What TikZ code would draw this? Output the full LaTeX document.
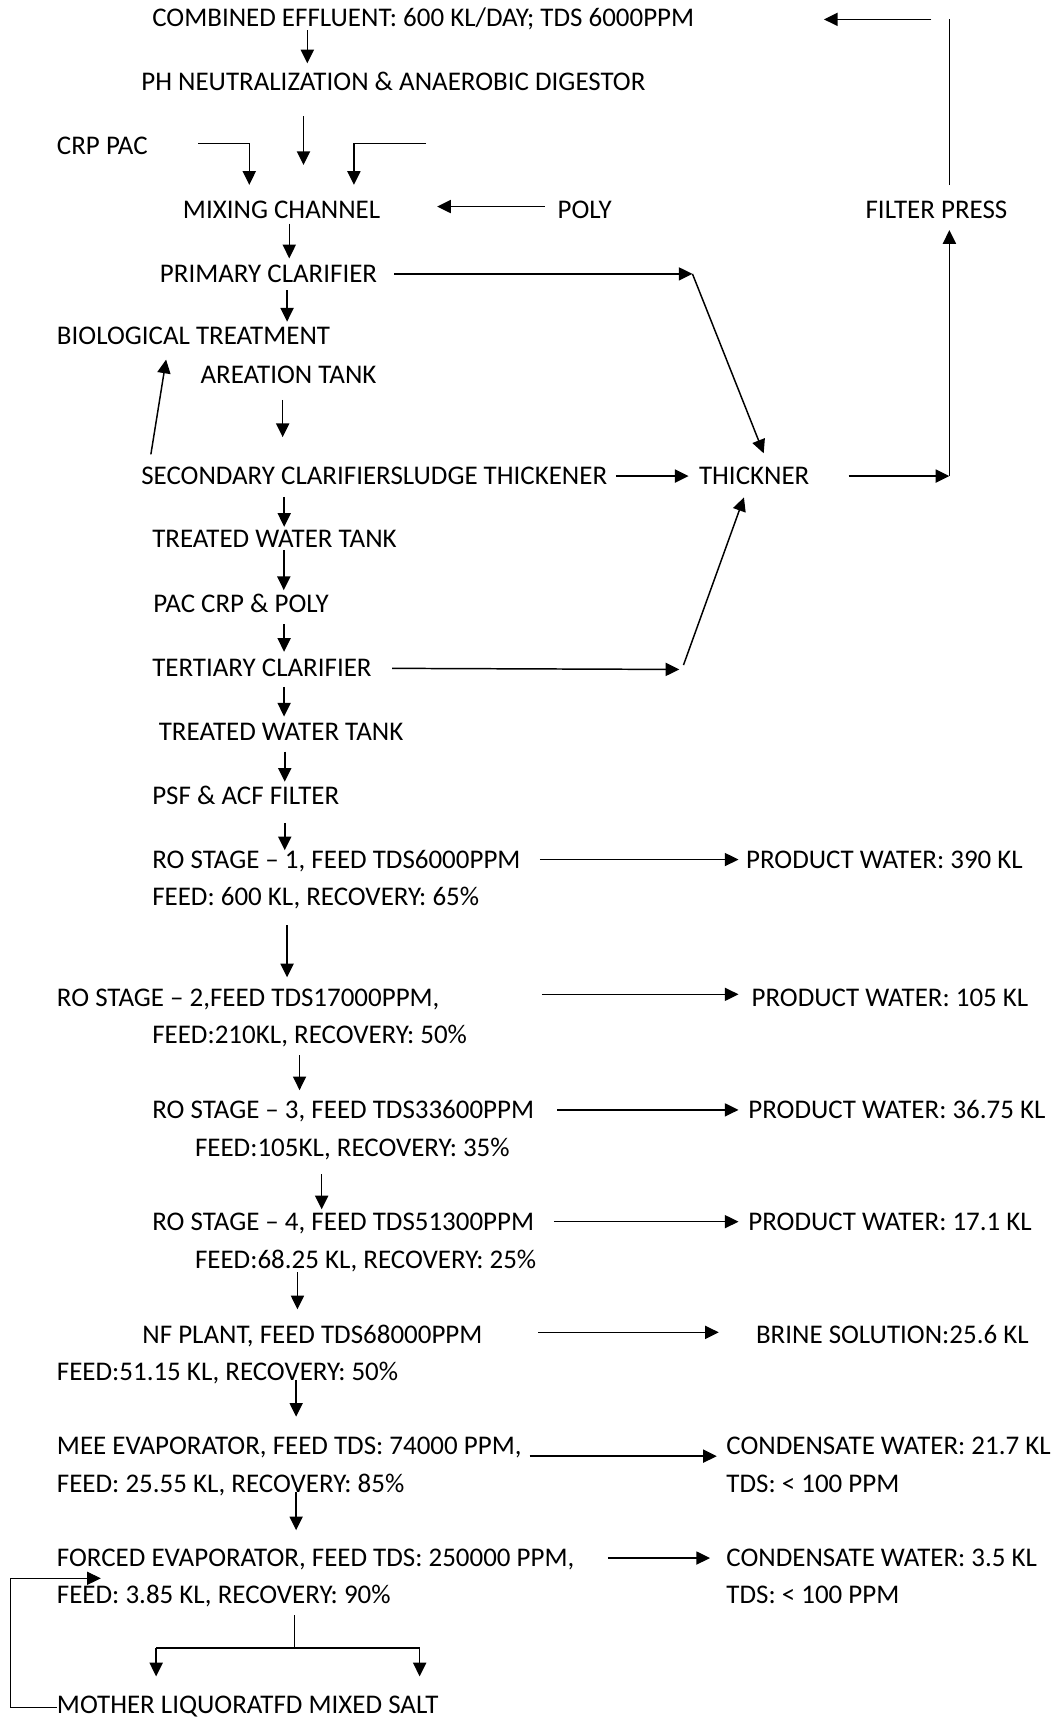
\documentclass[tikz,border=0pt]{standalone}
\usepackage{fontspec}
\setmainfont{Carlito}
\usetikzlibrary{arrows.meta,calc}
\begin{document}
\begin{tikzpicture}[x=1pt,y=-1pt,
 lbl/.style={anchor=west,inner sep=0pt,outer sep=0pt,text height=15.6pt,text depth=0pt,font=\fontsize{24.6}{28}\selectfont},
 ln/.style={line width=1.35pt},
 thinln/.style={line width=0.9pt},
 arr/.style={ln,-{Triangle[length=12.5pt,width=12pt]}}]
\useasboundingbox (0,0) rectangle (963,1568);
% nodes
\node[lbl] (c1) at (139,16.5) {COMBINED EFFLUENT: 600 KL/DAY; TDS 6000PPM};
\node[lbl] (ph) at (129,74.5) {PH NEUTRALIZATION \& ANAEROBIC DIGESTOR};
\node[lbl] (crp) at (52,133.5) {CRP PAC};
\node[lbl] (mix) at (167,191.5) {MIXING CHANNEL};
\node[lbl] (poly) at (509,191.5) {POLY};
\node[lbl] (fp) at (790,191.5) {FILTER PRESS};
\node[lbl] (prim) at (146,250) {PRIMARY CLARIFIER};
\node[lbl] (bio) at (52,307) {BIOLOGICAL TREATMENT};
\node[lbl] (aer) at (183,342.5) {AREATION TANK};
\node[lbl] (sec) at (129,434.5) {SECONDARY CLARIFIERSLUDGE THICKENER};
\node[lbl] (thick) at (638,434.5) {THICKNER};
\node[lbl] (tw1) at (139,492) {TREATED WATER TANK};
\node[lbl] (pac) at (140,551) {PAC CRP \& POLY};
\node[lbl] (tert) at (139,610) {TERTIARY CLARIFIER};
\node[lbl] (tw2) at (145,668) {TREATED WATER TANK};
\node[lbl] (psf) at (139,726.5) {PSF \& ACF FILTER};
\node[lbl] (ro1) at (139,784.5) {RO STAGE – 1, FEED TDS6000PPM};
\node[lbl] (ro1b) at (139,819) {FEED: 600 KL, RECOVERY: 65\%};
\node[lbl] (p1) at (681,784.5) {PRODUCT WATER: 390 KL};
\node[lbl] (ro2) at (52,911) {RO STAGE – 2,FEED TDS17000PPM,};
\node[lbl] (ro2b) at (139,945) {FEED:210KL, RECOVERY: 50\%};
\node[lbl] (p2) at (686,911) {PRODUCT WATER: 105 KL};
\node[lbl] (ro3) at (139,1013) {RO STAGE – 3, FEED TDS33600PPM};
\node[lbl] (ro3b) at (178,1048) {FEED:105KL, RECOVERY: 35\%};
\node[lbl] (p3) at (683,1013) {PRODUCT WATER: 36.75 KL};
\node[lbl] (ro4) at (139,1115) {RO STAGE – 4, FEED TDS51300PPM};
\node[lbl] (ro4b) at (178,1150) {FEED:68.25 KL, RECOVERY: 25\%};
\node[lbl] (p4) at (683,1115) {PRODUCT WATER: 17.1 KL};
\node[lbl] (nf) at (130,1218) {NF PLANT, FEED TDS68000PPM};
\node[lbl] (nfb) at (52,1252) {FEED:51.15 KL, RECOVERY: 50\%};
\node[lbl] (brine) at (690,1218) {BRINE SOLUTION:25.6 KL};
\node[lbl] (mee) at (52,1320) {MEE EVAPORATOR, FEED TDS: 74000 PPM,};
\node[lbl] (meeb) at (52,1354) {FEED: 25.55 KL, RECOVERY: 85\%};
\node[lbl] (cw1) at (663,1320) {CONDENSATE WATER: 21.7 KL};
\node[lbl] (cw1b) at (663,1354) {TDS: < 100 PPM};
\node[lbl] (fe) at (52,1422) {FORCED EVAPORATOR, FEED TDS: 250000 PPM,};
\node[lbl] (feb) at (52,1456) {FEED: 3.85 KL, RECOVERY: 90\%};
\node[lbl] (cw2) at (663,1422) {CONDENSATE WATER: 3.5 KL};
\node[lbl] (cw2b) at (663,1456) {TDS: < 100 PPM};
\node[lbl] (ml) at (52,1556) {MOTHER LIQUORATFD MIXED SALT};
% helper coordinates
\coordinate (feed) at (389,130.8);
\coordinate (j1) at (632,250);
\coordinate (j2) at (866.5,434.5);
\coordinate (j3) at (620,611);
\coordinate (j3b) at (623.8,607);
\coordinate (fptop) at (866.5,17.7);
\coordinate (rt) at (850,17.7);
\coordinate (sp) at (269,1504);
\coordinate (spl) at (142.5,1504);
\coordinate (spr) at (383,1504);
\coordinate (lp) at (9.2,1440.5);
% vertical main-line arrows
\draw[arr,shorten <=3.2pt,shorten >=8.9pt] (c1.south-|280.5,0) -- (ph.north-|280.5,0);
\draw[arr,shorten <=23.7pt,shorten >=33.1pt] (ph.south-|277,0) -- (mix.north-|277,0);
\draw[arr,shorten <=4.7pt,shorten >=6.4pt] (mix.south-|264,0) -- (prim.north-|264,0);
\draw[arr,shorten <=6.9pt,shorten >=5.6pt] (prim.south-|262,0) -- (bio.north-|262,0);
\draw[arr,shorten <=14.7pt,shorten >=27.7pt] (aer.south-|258,0) -- (sec.north-|258,0);
\draw[arr,shorten <=11.1pt,shorten >=3.4pt] (sec.south-|259.4,0) -- (tw1.north-|259.4,0);
\draw[arr,shorten <=2.2pt,shorten >=4.6pt] (tw1.south-|259,0) -- (pac.north-|259,0);
\draw[arr,shorten <=10.8pt,shorten >=7.3pt] (pac.south-|259.3,0) -- (tert.north-|259.3,0);
\draw[arr,shorten <=9pt,shorten >=6.2pt] (tert.south-|259.3,0) -- (tw2.north-|259.3,0);
\draw[arr,shorten <=10.2pt,shorten >=5.2pt] (tw2.south-|259.9,0) -- (psf.north-|259.9,0);
\draw[arr,shorten <=16.7pt,shorten >=0.7pt] (psf.south-|259.9,0) -- (ro1.north-|259.9,0);
\draw[arr,shorten <=17.6pt,shorten >=11.2pt] (ro1b.south-|262,0) -- (ro2.north-|262,0);
\draw[arr,shorten <=10.2pt,shorten >=10.2pt] (ro2b.south-|273.4,0) -- (ro3.north-|273.4,0);
\draw[arr,shorten <=16pt,shorten >=3.5pt] (ro3b.south-|293.6,0) -- (ro4.north-|293.6,0);
\draw[arr,shorten <=3.2pt,shorten >=15.2pt] (ro4b.south-|271.5,0) -- (nf.north-|271.5,0);
\draw[arr,shorten >=19.2pt] (nfb.south-|270.3,0) -- (mee.north-|270.3,0);
\draw[arr,shorten >=17.6pt] (meeb.south-|270.3,0) -- (fe.north-|270.3,0);
% chemical feeds
\draw[arr] ([yshift=2.7pt]crp.east-|181,0) -| ([yshift=15pt]mix.north-|227.5,0);
\draw[arr] (feed) -| ([yshift=15pt]mix.north-|323,0);
\draw[arr] ([yshift=3pt]poly.west-|497,0) -- ([yshift=3pt]mix.east-|399,0);
% sludge lines
\draw[arr] (prim.east-|360,0) -- (j1);
\draw[arr] (j1) -- ([yshift=13pt]thick.north-|697,0);
\draw[arr] (sec.east-|562,0) -- (thick.west-|628.5,0);
\draw[arr] ([yshift=12pt]sec.north west-|137.7,0) -- ([yshift=-13.4pt]bio.south-|151.6,0);
\draw[arr] (tert.east-|357.8,0) -- (j3);
\draw[arr] (j3b) -- ([yshift=-11.7pt]thick.south-|679,0);
\draw[arr] (thick.east-|774.5,0) -- (j2);
\draw[arr] (j2) -- ([yshift=-10.7pt]fp.south-|866.5,0);
\draw[thinln] ([yshift=14.8pt]fp.north-|fptop) -- (fptop);
\draw[arr] (rt) -- (rt-|752,0);
% product lines
\draw[arr] (ro1.east-|492.7,0) -- (p1.west-|674,0);
\draw[arr] ([yshift=3.5pt]ro2.east-|494.5,0) -- ([yshift=3.5pt]p2.west-|674,0);
\draw[arr] (ro3.east-|508.5,0) -- (p3.west-|674,0);
\draw[arr] (ro4.east-|505.5,0) -- (p4.west-|674,0);
\draw[arr] ([yshift=2pt]nf.east-|491.3,0) -- ([yshift=2pt]brine.west-|656,0);
\draw[arr] ([yshift=-9pt]mee.east-|483.4,0) -- ([yshift=-9pt]cw1.west-|654.2,0);
\draw[arr] (fe.east-|554.7,0) -- (cw2.west-|648,0);
% salt split
\draw[ln,shorten <=10.2pt] (feb.south-|sp) -- (sp);
\draw[ln] (spl) -- (spr);
\draw[arr,shorten >=18.2pt] (spl) -- (ml.north-|spl);
\draw[arr,shorten >=18.2pt] (spr) -- (ml.north-|spr);
% mother liquor recycle
\draw[thinln,-{Triangle[length=12.5pt,width=12pt]}] ([yshift=-2pt]ml.west) -| (lp) -- ([xshift=40pt]lp-|feb.west);
\end{tikzpicture}
\end{document}
